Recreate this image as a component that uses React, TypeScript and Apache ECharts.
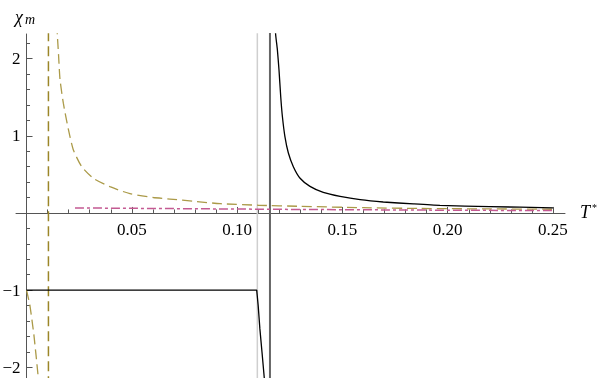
import React, { useEffect, useRef } from "react";
import * as echarts from "echarts";

// ---- axis ticks ----
const xMajorTicks = [0.05, 0.1, 0.15, 0.2, 0.25];
const xMinorTicks = [
  0.01, 0.02, 0.03, 0.04, 0.06, 0.07, 0.08, 0.09, 0.11, 0.12, 0.13, 0.14,
  0.16, 0.17, 0.18, 0.19, 0.21, 0.22, 0.23, 0.24,
];
const yMajorTicks = [-2, -1, 1, 2];
const yMinorTicks = [
  -1.8, -1.6, -1.4, -1.2, -0.8, -0.6, -0.4, -0.2, 0.2, 0.4, 0.6, 0.8, 1.2,
  1.4, 1.6, 1.8, 2.2,
];

// ---- axis ranges ----
const X_MIN = -0.005;
const X_MAX = 0.2557;
const Y_MIN = -2.14;
const Y_MAX = 2.32;

// ---- vertical lines (x positions) ----
const oliveAsymptoteX = 0.0104;
const lightGrayX = 0.1096;
const darkGrayX = 0.1156;

// ---- curves ----
const blackLower = [
  [0, -1],
  [0.1093, -1],
  [0.11, -1.2],
  [0.1108, -1.5],
  [0.1118, -1.8],
  [0.1129, -2.14],
  [0.1132, -2.3],
];
const blackUpper = [
  [0.1181, 2.45],
  [0.1183, 2.31],
  [0.1191, 2.12],
  [0.1199, 1.85],
  [0.1207, 1.51],
  [0.1215, 1.25],
  [0.1227, 0.99],
  [0.1243, 0.78],
  [0.1267, 0.6],
  [0.1299, 0.45],
  [0.1346, 0.345],
  [0.1409, 0.267],
  [0.1489, 0.215],
  [0.1584, 0.172],
  [0.1694, 0.142],
  [0.1837, 0.117],
  [0.1963, 0.098],
  [0.22, 0.082],
  [0.25, 0.066],
];
const oliveUpper = [
  [0.0144, 2.45],
  [0.01463, 2.31],
  [0.0152, 2.05],
  [0.0159, 1.73],
  [0.0175, 1.42],
  [0.0199, 1.08],
  [0.0222, 0.82],
  [0.0262, 0.6],
  [0.0317, 0.45],
  [0.0396, 0.34],
  [0.0491, 0.25],
  [0.0602, 0.2],
  [0.0681, 0.18],
  [0.08, 0.15],
  [0.092, 0.12],
  [0.11, 0.1],
  [0.13, 0.086],
  [0.16, 0.068],
  [0.187, 0.058],
  [0.22, 0.052],
  [0.25, 0.048],
];
const oliveLower = [
  [0, -1],
  [0.0015, -1.18],
  [0.0025, -1.37],
  [0.0035, -1.58],
  [0.0045, -1.84],
  [0.0056, -2.14],
  [0.006, -2.3],
];
const magentaCurve = [
  [0.023, 0.065],
  [0.05, 0.06],
  [0.092, 0.052],
  [0.13, 0.045],
  [0.187, 0.037],
  [0.25, 0.03],
];

const FONT = "'Liberation Serif', 'Times New Roman', 'DejaVu Serif', serif";
const AXIS_COLOR = "#555555";

const GRID = { left: 16, right: 34, top: 34, bottom: 0 };
const W = 599;
const H = 378;

export default function App() {
  const ref = useRef<HTMLDivElement>(null);

  useEffect(() => {
    if (!ref.current) return;
    const chart = echarts.init(ref.current, null, { renderer: "svg" });

    const gridW = W - GRID.left - GRID.right;
    const gridH = H - GRID.top - GRID.bottom;
    // offsets that bring label-only axes onto the zero lines
    const xLabelOffset = -((0 - Y_MIN) / (Y_MAX - Y_MIN)) * gridH;
    const yLabelOffset = -((0 - X_MIN) / (X_MAX - X_MIN)) * gridW;

    const vline = (x: number) => [
      [x, Y_MIN - 0.3],
      [x, Y_MAX + 0.3],
    ];

    const baseX = {
      type: "value",
      min: X_MIN,
      max: X_MAX,
      position: "bottom",
      splitLine: { show: false },
    };
    const baseY = {
      type: "value",
      min: Y_MIN,
      max: Y_MAX,
      position: "left",
      splitLine: { show: false },
    };

    chart.setOption({
      animation: false,
      grid: {
        ...GRID,
        containLabel: false,
        outerBoundsMode: "none",
      },
      xAxis: [
        {
          ...baseX,
          axisLine: {
            show: true,
            onZero: true,
            onZeroAxisIndex: 0,
            lineStyle: { color: AXIS_COLOR, width: 1 },
          },
          axisTick: {
            show: true,
            inside: true,
            length: 6,
            customValues: xMajorTicks,
            lineStyle: { color: AXIS_COLOR, width: 1 },
          },
          axisLabel: { show: false },
        },
        {
          ...baseX,
          axisLine: { show: false, onZero: true, onZeroAxisIndex: 0 },
          axisTick: {
            show: true,
            inside: true,
            length: 3.5,
            customValues: xMinorTicks,
            lineStyle: { color: AXIS_COLOR, width: 1 },
          },
          axisLabel: { show: false },
        },
        {
          ...baseX,
          offset: xLabelOffset,
          axisLine: { show: false, onZero: false },
          axisTick: { show: false },
          axisLabel: {
            show: true,
            customValues: xMajorTicks,
            formatter: (v: number) => v.toFixed(2),
            fontFamily: FONT,
            fontSize: 17,
            color: "#000",
            margin: 8,
          },
        },
      ],
      yAxis: [
        {
          ...baseY,
          axisLine: {
            show: true,
            onZero: true,
            onZeroAxisIndex: 0,
            lineStyle: { color: AXIS_COLOR, width: 1 },
          },
          axisTick: {
            show: true,
            inside: true,
            length: 6,
            customValues: yMajorTicks,
            lineStyle: { color: AXIS_COLOR, width: 1 },
          },
          axisLabel: { show: false },
        },
        {
          ...baseY,
          axisLine: { show: false, onZero: true, onZeroAxisIndex: 0 },
          axisTick: {
            show: true,
            inside: true,
            length: 3.5,
            customValues: yMinorTicks,
            lineStyle: { color: AXIS_COLOR, width: 1 },
          },
          axisLabel: { show: false },
        },
        {
          ...baseY,
          offset: yLabelOffset,
          axisLine: { show: false, onZero: false },
          axisTick: { show: false },
          axisLabel: {
            show: true,
            customValues: yMajorTicks,
            formatter: (v: number) =>
              v < 0 ? "\u2212" + String(Math.abs(v)) : String(v),
            fontFamily: FONT,
            fontSize: 17,
            color: "#000",
            margin: 6,
          },
        },
      ],
      series: [
        {
          type: "line",
          data: vline(lightGrayX),
          showSymbol: false,
          clip: true,
          lineStyle: { color: "#cfcfcf", width: 1.5 },
          z: 1,
        },
        {
          type: "line",
          data: vline(darkGrayX),
          showSymbol: false,
          clip: true,
          lineStyle: { color: "#666666", width: 2 },
          z: 1,
        },
        {
          type: "line",
          data: vline(oliveAsymptoteX),
          showSymbol: false,
          clip: true,
          lineStyle: { color: "#9b8628", width: 1.5, type: [10, 5] },
          z: 2,
        },
        {
          type: "line",
          data: oliveUpper,
          showSymbol: false,
          smooth: 0.2,
          clip: true,
          lineStyle: { color: "#ab9a48", width: 1.3, type: [10, 5] },
          z: 3,
        },
        {
          type: "line",
          data: oliveLower,
          showSymbol: false,
          clip: true,
          lineStyle: { color: "#ab9a48", width: 1.3, type: [10, 5] },
          z: 3,
        },
        {
          type: "line",
          data: magentaCurve,
          showSymbol: false,
          clip: true,
          lineStyle: { color: "#c45a92", width: 1.5, type: [9, 3, 3, 3] },
          z: 4,
        },
        {
          type: "line",
          data: blackLower,
          showSymbol: false,
          clip: true,
          lineStyle: { color: "#000", width: 1.3 },
          z: 5,
        },
        {
          type: "line",
          data: blackUpper,
          showSymbol: false,
          smooth: 0.2,
          clip: true,
          lineStyle: { color: "#000", width: 1.3 },
          z: 5,
        },
      ],
      graphic: [
        {
          type: "text",
          left: 15,
          top: 8,
          style: {
            text: "\u03c7",
            font: `italic 18px ${FONT}`,
            fill: "#000",
          },
        },
        {
          type: "text",
          left: 25,
          top: 12,
          style: {
            text: "m",
            font: `italic 14px ${FONT}`,
            fill: "#000",
          },
        },
        {
          type: "text",
          left: 580,
          top: 203,
          style: {
            text: "T",
            font: `italic 18px ${FONT}`,
            fill: "#000",
          },
        },
        {
          type: "text",
          left: 592,
          top: 202,
          style: {
            text: "*",
            font: `10px ${FONT}`,
            fill: "#000",
          },
        },
      ],
    });

    return () => {
      chart.dispose();
    };
  }, []);

  return (
    <div
      ref={ref}
      style={{ position: "fixed", left: 0, top: 0, width: W, height: H }}
    />
  );
}
